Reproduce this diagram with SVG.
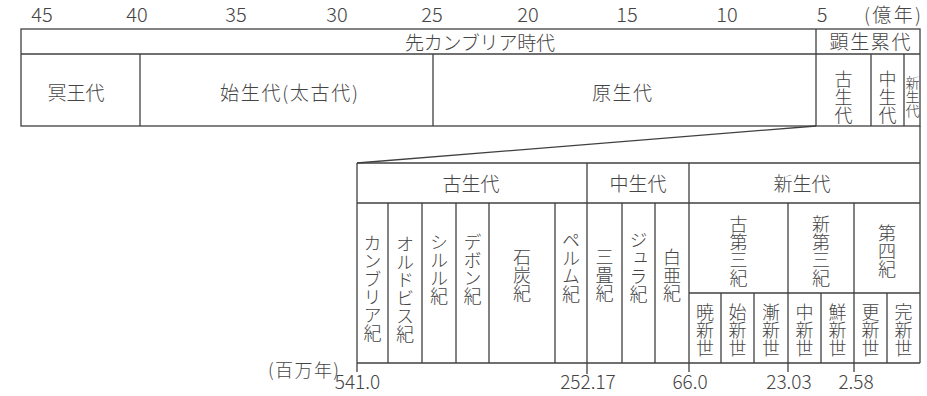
<svg xmlns="http://www.w3.org/2000/svg" width="927" height="396" viewBox="0 0 927 396">
<style>
.ln{stroke:#404040;stroke-width:1.3;fill:none}
text{font-family:"Noto Sans CJK JP","Noto Sans",sans-serif;fill:#444;font-weight:300}
.ax{font-size:20px;text-anchor:middle}
.bx{font-size:19px;text-anchor:middle}
.h{font-size:19px;text-anchor:middle}
.v{font-size:18px;writing-mode:vertical-rl;text-anchor:middle}
.vs{font-size:14px;writing-mode:vertical-rl;text-anchor:middle}
</style>
<rect width="927" height="396" fill="#fff"/>
<g id="axis-top">
<text class="ax" x="42" y="22">45</text>
<text class="ax" x="137" y="22">40</text>
<text class="ax" x="236" y="22">35</text>
<text class="ax" x="337" y="22">30</text>
<text class="ax" x="432" y="22">25</text>
<text class="ax" x="528" y="22">20</text>
<text class="ax" x="627" y="22">15</text>
<text class="ax" x="727" y="22">10</text>
<text class="ax" x="822" y="22">5</text>
<text x="864" y="22" font-size="19" textLength="57" lengthAdjust="spacing">(億年)</text>
</g>
<g id="upper-table">
<rect class="ln" x="21" y="29" width="899" height="97"/>
<line class="ln" x1="21" y1="54" x2="920" y2="54"/>
<line class="ln" x1="140" y1="54" x2="140" y2="126"/>
<line class="ln" x1="433" y1="54" x2="433" y2="126"/>
<line class="ln" x1="816" y1="29" x2="816" y2="126"/>
<line class="ln" x1="871" y1="54" x2="871" y2="126"/>
<line class="ln" x1="904" y1="54" x2="904" y2="126"/>
</g>
<g id="precambrian"><text class="h" x="480" y="50" textLength="150" lengthAdjust="spacing">先カンブリア時代</text></g>
<g id="phanerozoic"><text class="h" x="870" y="49" textLength="81" lengthAdjust="spacing">顕生累代</text></g>
<g id="hadean"><text class="h" x="76" y="100">冥王代</text></g>
<g id="archean"><text class="h" x="289" y="100" textLength="138" lengthAdjust="spacing">始生代(太古代)</text></g>
<g id="proterozoic"><text class="h" x="622" y="100" textLength="60" lengthAdjust="spacing">原生代</text></g>
<g id="paleozoic-top"><text class="v" x="843.5" y="97">古生代</text></g>
<g id="mesozoic-top"><text class="v" x="887.5" y="97">中生代</text></g>
<g id="cenozoic-top"><text class="vs" x="912.5" y="97">新生代</text></g>
<g id="connectors">
<line class="ln" x1="816" y1="126" x2="357" y2="163"/>
<line class="ln" x1="920" y1="126" x2="920" y2="163"/>
</g>
<g id="lower-table">
<line class="ln" x1="357" y1="163" x2="920" y2="163"/>
<line class="ln" x1="357" y1="203" x2="920" y2="203"/>
<line class="ln" x1="689" y1="293" x2="920" y2="293"/>
<line class="ln" x1="357" y1="363" x2="920" y2="363"/>
<line class="ln" x1="357" y1="163" x2="357" y2="372"/>
<line class="ln" x1="587" y1="163" x2="587" y2="374"/>
<line class="ln" x1="689" y1="163" x2="689" y2="372"/>
<line class="ln" x1="788" y1="203" x2="788" y2="372"/>
<line class="ln" x1="854" y1="203" x2="854" y2="372"/>
<line class="ln" x1="920" y1="163" x2="920" y2="363"/>
<line class="ln" x1="388" y1="203" x2="388" y2="363"/>
<line class="ln" x1="422" y1="203" x2="422" y2="363"/>
<line class="ln" x1="456" y1="203" x2="456" y2="363"/>
<line class="ln" x1="489" y1="203" x2="489" y2="363"/>
<line class="ln" x1="555" y1="203" x2="555" y2="363"/>
<line class="ln" x1="622" y1="203" x2="622" y2="363"/>
<line class="ln" x1="655" y1="203" x2="655" y2="363"/>
<line class="ln" x1="721" y1="293" x2="721" y2="363"/>
<line class="ln" x1="754" y1="293" x2="754" y2="363"/>
<line class="ln" x1="821" y1="293" x2="821" y2="363"/>
<line class="ln" x1="887" y1="293" x2="887" y2="363"/>
</g>
<g id="paleozoic"><text class="h" x="471" y="191">古生代</text></g>
<g id="mesozoic"><text class="h" x="638" y="191">中生代</text></g>
<g id="cenozoic"><text class="h" x="802" y="191">新生代</text></g>
<g id="cambrian"><text class="v" x="372.5" y="288">カンブリア紀</text></g>
<g id="ordovician"><text class="v" x="405" y="289">オルドビス紀</text></g>
<g id="silurian"><text class="v" x="439" y="269">シルル紀</text></g>
<g id="devonian"><text class="v" x="472.5" y="269">デボン紀</text></g>
<g id="carboniferous"><text class="v" x="522" y="275">石炭紀</text></g>
<g id="permian"><text class="v" x="571" y="267">ペルム紀</text></g>
<g id="triassic"><text class="v" x="604.5" y="275">三畳紀</text></g>
<g id="jurassic"><text class="v" x="638.5" y="267">ジュラ紀</text></g>
<g id="cretaceous"><text class="v" x="672" y="275">白亜紀</text></g>
<g id="paleogene"><text class="v" x="738.5" y="251">古第三紀</text></g>
<g id="neogene"><text class="v" x="821" y="251">新第三紀</text></g>
<g id="quaternary"><text class="v" x="887" y="251">第四紀</text></g>
<g id="paleocene"><text class="v" x="705" y="330">暁新世</text></g>
<g id="eocene"><text class="v" x="737.5" y="330">始新世</text></g>
<g id="oligocene"><text class="v" x="771" y="330">漸新世</text></g>
<g id="miocene"><text class="v" x="804.5" y="330">中新世</text></g>
<g id="pliocene"><text class="v" x="837.5" y="330">鮮新世</text></g>
<g id="pleistocene"><text class="v" x="870.5" y="330">更新世</text></g>
<g id="holocene"><text class="v" x="903.5" y="330">完新世</text></g>
<g id="axis-bottom">
<text x="339" y="377" font-size="18" text-anchor="end" textLength="71" lengthAdjust="spacing">(百万年)</text>
<text class="bx" x="357.5" y="389">541.0</text>
<text class="bx" x="588" y="389">252.17</text>
<text class="bx" x="690" y="389">66.0</text>
<text class="bx" x="789" y="389">23.03</text>
<text class="bx" x="856" y="389">2.58</text>
</g>
</svg>
